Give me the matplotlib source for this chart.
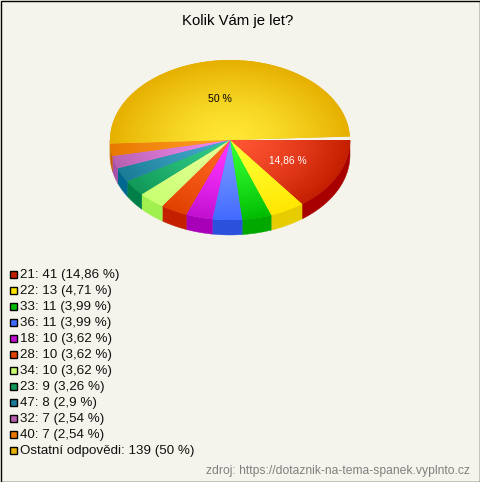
import numpy as np
import matplotlib
matplotlib.use("Agg")
import matplotlib.pyplot as plt
from matplotlib.patches import Polygon, Rectangle
from matplotlib.colors import to_rgb

plt.rcParams['font.family'] = ['Liberation Sans', 'DejaVu Sans']

title = "Kolik Vám je let?"
labels = ["21", "22", "33", "36", "18", "28", "34", "23", "47", "32", "40", "Ostatní odpovědi"]
values = [41, 13, 11, 11, 10, 10, 10, 9, 8, 7, 7, 139]
percents = ["14,86", "4,71", "3,99", "3,99", "3,62", "3,62", "3,62", "3,26", "2,9", "2,54", "2,54", "50"]
# legend / rim colour, middle of the slice, side wall
edge_cols = ["#c41e00", "#ffe600", "#00bb00", "#4169ff", "#c010d0", "#e04000",
             "#c8ff70", "#109858", "#1a7c96", "#b860b0", "#e87800", "#e6b000"]
mid_cols = ["#ff5533", "#ffff33", "#33ff33", "#7799ff", "#ff33ff", "#ff6622",
            "#e6ff99", "#33cc88", "#44aacc", "#ee88ee", "#ff9922", "#ffe835"]
side_cols = ["#a80000", "#e6cc00", "#00a800", "#2a50dc", "#a800b8", "#c42000",
             "#a0f050", "#008048", "#006890", "#a850a8", "#c86000", "#c89000"]
source = "zdroj: https://dotaznik-na-tema-spanek.vyplnto.cz"

bg = "#f5f4ec"
cx, cy, rx, ry, depth = 230, 140, 120, 80, 15
sweep = 357.5  # the pie leaves a small gap at the right

fig = plt.figure(figsize=(4.8, 4.82), dpi=100, facecolor=bg)
ax = fig.add_axes([0, 0, 1, 1])
ax.axis("off")
ax.add_patch(Rectangle((0.5, 0.5), 479, 481, fc="none", ec="#000000", lw=1))


def arc(a0, a1):
    t = np.radians(np.linspace(a0, a1, 120))
    return np.column_stack([cx + rx * np.cos(t), cy + ry * np.sin(t)])


def gradient(c0, c1):
    xx, yy = np.meshgrid(np.arange(cx - rx - 2, cx + rx + 2, 0.5),
                         np.arange(cy - ry - 2, cy + ry + 2, 0.5))
    r = np.clip(np.hypot((xx - cx) / rx, (yy - cy) / ry), 0, 1)[..., None] ** 1.4
    return (1 - r) * np.array(to_rgb(c0)) + r * np.array(to_rgb(c1))


ends = np.cumsum(values) / sum(values) * sweep
starts = ends - np.array(values) / sum(values) * sweep

for i in range(len(values)):
    a0, a1 = starts[i], ends[i]
    w0, w1 = a0, min(a1, 180)
    if w1 > w0:
        top = arc(w0, w1)
        ax.add_patch(Polygon(np.vstack([top, top[::-1] + [0, depth]]),
                             fc=side_cols[i], ec=side_cols[i], lw=0.3, zorder=2))
    face = Polygon(np.vstack([[cx, cy], arc(a0, a1)]), fc=edge_cols[i], ec="none", zorder=3)
    ax.add_patch(face)
    im = ax.imshow(gradient(mid_cols[i], edge_cols[i]), zorder=4, aspect="auto",
                   extent=(cx - rx - 2, cx + rx + 2, cy + ry + 2, cy - ry - 2))
    im.set_clip_path(face)

ax.set_xlim(0, 480)
ax.set_ylim(482, 0)

ax.text(238, 21, title, fontsize=10.7, ha="center", va="center", color="#000000")
ax.text(220, 99, percents[-1] + " %", fontsize=7.6, ha="center", va="center", color="#000000", zorder=5)
ax.text(287.5, 160.5, percents[0] + " %", fontsize=7.4, ha="center", va="center", color="#ffffff", zorder=5)

for i in range(len(values)):
    y = 274 + i * 16
    ax.add_patch(Rectangle((9.5, y - 3.5), 7, 7, fc=edge_cols[i], ec="#000000", lw=1, zorder=3))
    ax.text(20, y + 1, f"{labels[i]}: {values[i]} ({percents[i]} %)", fontsize=9.6, ha="left",
            va="center", color="#111111")

ax.text(470, 471, source, fontsize=8.75, ha="right", va="center", color="#808080")

fig.savefig("out.png", dpi=100, facecolor=bg)
